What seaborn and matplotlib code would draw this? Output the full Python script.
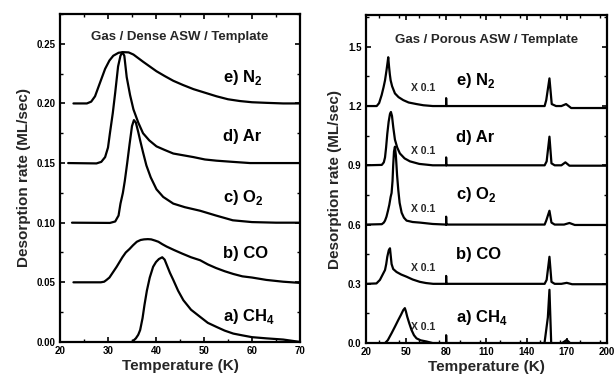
import matplotlib
matplotlib.use("Agg")
import matplotlib.pyplot as plt
from matplotlib.ticker import MultipleLocator, FormatStrFormatter
import seaborn as sns
import pandas as pd

sns.set_theme(style="ticks")
plt.rcParams["font.family"] = ["Liberation Sans", "DejaVu Sans"]
plt.rcParams["font.weight"] = "bold"
plt.rcParams["mathtext.fontset"] = "custom"
plt.rcParams["mathtext.rm"] = "Liberation Sans:bold"
plt.rcParams["mathtext.bf"] = "Liberation Sans:bold"

# ---- Dense ASW: desorption traces (temperature K, rate ML/sec, offset baselines) ----
dense_ch4_t = [35.0, 35.8, 36.3, 36.7, 37.2, 37.6, 38.1, 38.7, 39.4, 40.0, 40.6, 41.3, 41.8, 42.3, 42.9,
               43.6, 44.6, 45.7, 47.3, 49.2, 50.8, 52.6, 54.3, 56.1, 58.0, 60.0, 63.0, 66.5, 70.0]
dense_ch4_v = [0.000, 0.003, 0.006, 0.010, 0.020, 0.031, 0.043, 0.054, 0.063, 0.067, 0.0695, 0.071, 0.069, 0.064, 0.058,
               0.052, 0.043, 0.035, 0.027, 0.021, 0.016, 0.0126, 0.0095, 0.007, 0.0055, 0.004, 0.003, 0.002, 0.000]

dense_co_t = [22.8, 28.5, 29.2, 29.7, 30.3, 30.8, 31.3, 31.8, 32.4, 33.0, 33.7, 34.5, 35.2, 36.0, 36.8, 37.5,
              38.3, 39.0, 39.8, 40.5, 41.3, 42.2, 43.8, 45.5, 47.3, 49.2, 50.8, 52.5, 54.3, 56.1, 58.0, 60.0,
              63.0, 66.5, 70.0]
dense_co_v = [0.050, 0.050, 0.0505, 0.052, 0.054, 0.057, 0.060, 0.063, 0.067, 0.071, 0.075, 0.078, 0.081, 0.084, 0.0855, 0.086,
              0.0862, 0.086, 0.085, 0.084, 0.082, 0.080, 0.077, 0.074, 0.071, 0.0685, 0.065, 0.062, 0.0593, 0.057, 0.055, 0.054,
              0.052, 0.0505, 0.0495]

dense_o2_t = [22.5, 30.4, 31.5, 32.2, 32.6, 33.1, 33.5, 34.0, 34.5, 35.0, 35.4, 35.8, 36.3, 36.7, 37.3, 38.0,
              38.9, 40.1, 41.5, 43.6, 46.0, 49.2, 52.5, 56.0, 60.0, 65.0, 70.0]
dense_o2_v = [0.100, 0.0998, 0.101, 0.106, 0.116, 0.125, 0.135, 0.150, 0.166, 0.181, 0.186, 0.184, 0.176, 0.169, 0.159, 0.148,
              0.138, 0.128, 0.1216, 0.116, 0.113, 0.110, 0.106, 0.102, 0.1005, 0.100, 0.100]

dense_ar_t = [21.7, 27.6, 28.6, 29.4, 30.0, 30.4, 31.0, 31.5, 32.1, 32.6, 33.0, 33.4, 33.9, 34.6, 35.3, 36.3,
              37.3, 38.6, 40.1, 41.8, 43.6, 45.7, 47.8, 50.2, 52.6, 56.0, 59.6, 65.0, 70.0]
dense_ar_v = [0.150, 0.1497, 0.151, 0.155, 0.163, 0.175, 0.192, 0.209, 0.231, 0.240, 0.243, 0.240, 0.222, 0.207, 0.195, 0.184,
              0.175, 0.169, 0.164, 0.161, 0.158, 0.1565, 0.155, 0.153, 0.152, 0.151, 0.150, 0.150, 0.150]

dense_n2_t = [22.8, 25.6, 26.5, 27.3, 28.3, 29.4, 30.3, 31.1, 32.2, 33.2, 34.3, 35.3, 36.3, 37.3, 38.7, 40.1,
              41.8, 43.6, 45.6, 47.8, 50.2, 52.6, 55.0, 57.5, 60.0, 63.0, 66.5, 70.0]
dense_n2_v = [0.200, 0.200, 0.2015, 0.206, 0.217, 0.229, 0.236, 0.240, 0.2425, 0.243, 0.2428, 0.241, 0.238, 0.235, 0.231, 0.227,
              0.223, 0.219, 0.2155, 0.212, 0.209, 0.206, 0.2035, 0.202, 0.201, 0.2005, 0.200, 0.200]

dense_labels = ["a) CH$_4$", "b) CO", "c) O$_2$", "d) Ar", "e) N$_2$"]
dense_label_y = [0.021, 0.074, 0.121, 0.172, 0.222]

# ---- Porous ASW: desorption traces (x 0.1 below 80 K) ----
porous_ch4_t = [34.4, 36.5, 39.3, 41.8, 44.3, 46.3, 48.0, 49.2, 50.0, 51.0, 52.5, 54.2, 56.0, 57.9, 61.0, 65.4, 70.0,
                79.9, 80.0, 80.0, 80.1, 153.4, 155.9, 157.1, 158.4, 166.5, 170.0, 172.5, 200.0]
porous_ch4_v = [0.000, 0.015, 0.050, 0.083, 0.117, 0.143, 0.167, 0.177, 0.160, 0.133, 0.100, 0.066, 0.040, 0.024, 0.014, 0.008, 0.000,
                0.000, 0.000, 0.040, 0.000, 0.000, 0.130, 0.270, 0.000, 0.000, 0.016, 0.000, 0.000]

porous_co_t = [20.0, 28.0, 30.6, 32.5, 34.4, 35.3, 36.1, 37.2, 38.1, 38.7, 39.3, 40.5, 43.0, 46.5, 50.5, 55.0, 60.4, 65.0,
               70.3, 79.9, 80.0, 80.0, 80.1, 153.5, 155.0, 157.1, 158.6, 161.0, 166.0, 170.0, 174.0, 200.0]
porous_co_v = [0.300, 0.302, 0.320, 0.345, 0.370, 0.400, 0.437, 0.470, 0.480, 0.440, 0.400, 0.375, 0.360, 0.347, 0.336, 0.322, 0.310, 0.304,
               0.300, 0.300, 0.300, 0.340, 0.300, 0.300, 0.320, 0.437, 0.310, 0.300, 0.300, 0.305, 0.298, 0.298]

porous_o2_t = [20.0, 32.0, 33.5, 34.4, 35.5, 36.6, 37.6, 38.6, 39.3, 40.0, 40.5, 41.1, 41.8, 42.5, 43.4, 44.3, 45.3, 46.8,
               48.5, 50.5, 55.0, 60.4, 70.0, 79.9, 80.0, 80.0, 80.1, 153.5, 154.7, 157.1, 158.6, 161.0, 168.0, 172.0, 176.0, 200.0]
porous_o2_v = [0.600, 0.602, 0.610, 0.620, 0.640, 0.670, 0.700, 0.740, 0.760, 0.820, 0.900, 0.970, 0.994, 0.950, 0.850, 0.775, 0.710, 0.660,
               0.635, 0.620, 0.613, 0.610, 0.603, 0.600, 0.600, 0.640, 0.600, 0.600, 0.620, 0.670, 0.610, 0.600, 0.600, 0.608, 0.598, 0.598]

porous_ar_t = [20.0, 32.0, 33.5, 34.4, 35.2, 36.1, 37.1, 38.1, 38.8, 39.6, 40.6, 41.8, 43.5, 45.5, 49.0, 53.0, 60.0, 70.0,
               79.9, 80.0, 80.0, 80.1, 153.5, 155.0, 157.1, 158.6, 161.0, 166.0, 169.0, 172.0, 200.0]
porous_ar_v = [0.900, 0.902, 0.915, 0.940, 0.990, 1.060, 1.120, 1.160, 1.170, 1.150, 1.090, 1.030, 0.990, 0.960, 0.935, 0.920, 0.907, 0.900,
               0.900, 0.900, 0.940, 0.900, 0.900, 0.920, 1.045, 0.910, 0.900, 0.900, 0.915, 0.898, 0.898]

porous_n2_t = [20.7, 28.2, 30.0, 31.9, 33.3, 34.4, 35.5, 36.3, 36.8, 37.4, 38.0, 38.6, 39.7, 41.8, 44.5, 48.0, 52.0, 57.9,
               63.0, 70.0, 79.9, 80.0, 80.0, 80.1, 153.5, 154.7, 157.1, 158.8, 162.0, 166.0, 169.5, 173.3, 200.0]
porous_n2_v = [1.200, 1.200, 1.215, 1.256, 1.295, 1.330, 1.380, 1.420, 1.447, 1.400, 1.360, 1.330, 1.300, 1.264, 1.245, 1.230, 1.218, 1.210,
               1.204, 1.200, 1.200, 1.200, 1.240, 1.200, 1.200, 1.230, 1.340, 1.210, 1.200, 1.200, 1.210, 1.190, 1.190]

porous_labels = ["a) CH$_4$", "b) CO", "c) O$_2$", "d) Ar", "e) N$_2$"]
porous_label_y = [0.13, 0.45, 0.75, 1.04, 1.33]
porous_scale_text = "X 0.1"
porous_scale_y = [0.08, 0.38, 0.68, 0.97, 1.29]

dense_traces = [(dense_ch4_t, dense_ch4_v), (dense_co_t, dense_co_v), (dense_o2_t, dense_o2_v),
                (dense_ar_t, dense_ar_v), (dense_n2_t, dense_n2_v)]
porous_traces = [(porous_ch4_t, porous_ch4_v), (porous_co_t, porous_co_v), (porous_o2_t, porous_o2_v),
                 (porous_ar_t, porous_ar_v), (porous_n2_t, porous_n2_v)]

fig = plt.figure(figsize=(6.16, 3.89), dpi=100)
ax1 = fig.add_axes([0.0974, 0.121, 0.3896, 0.843])
ax2 = fig.add_axes([0.5937, 0.118, 0.3916, 0.843])

line_kw = dict(color="black", linewidth=1.6, sort=False, estimator=None, legend=False)

for t, v in dense_traces:
    sns.lineplot(data=pd.DataFrame({"T": t, "rate": v}), x="T", y="rate", ax=ax1, **line_kw)
for t, v in porous_traces:
    sns.lineplot(data=pd.DataFrame({"T": t, "rate": v}), x="T", y="rate", ax=ax2, **line_kw)

label_font = dict(fontsize=12, fontweight="bold", color="black")
for txt, y in zip(dense_labels, dense_label_y):
    ax1.text(54.0, y, txt, ha="left", va="center", **label_font)
for txt, y in zip(porous_labels, porous_label_y):
    ax2.text(87, y, txt, ha="left", va="center", **label_font)
for y in porous_scale_y:
    ax2.text(54, y, porous_scale_text, ha="left", va="center", fontsize=7.5, fontweight="bold")

ax1.text(0.5, 0.93, "Gas / Dense ASW / Template", transform=ax1.transAxes,
         ha="center", va="center", fontsize=9.5, fontweight="bold")
ax2.text(0.5, 0.925, "Gas / Porous ASW / Template", transform=ax2.transAxes,
         ha="center", va="center", fontsize=9.5, fontweight="bold")

ax1.set_xlim(20, 70)
ax1.set_ylim(0, 0.275)
ax1.xaxis.set_major_locator(MultipleLocator(10))
ax1.xaxis.set_minor_locator(MultipleLocator(5))
ax1.yaxis.set_major_locator(MultipleLocator(0.05))
ax1.yaxis.set_minor_locator(MultipleLocator(0.025))
ax1.yaxis.set_major_formatter(FormatStrFormatter("%.2f"))

ax2.set_xlim(20, 200)
ax2.set_ylim(0, 1.66)
ax2.xaxis.set_minor_locator(MultipleLocator(15))
ax2.set_xticks([20, 50, 80, 110, 140, 170, 200])
ax2.yaxis.set_major_locator(MultipleLocator(0.3))
ax2.yaxis.set_minor_locator(MultipleLocator(0.15))
ax2.yaxis.set_major_formatter(FormatStrFormatter("%.1f"))

for ax in (ax1, ax2):
    ax.set_xlabel("Temperature (K)", fontsize=11, fontweight="bold", labelpad=2)
    ax.set_ylabel("Desorption rate (ML/sec)", fontsize=11, fontweight="bold", labelpad=4)
    ax.tick_params(which="both", direction="in", top=True, right=True, colors="black")
    ax.tick_params(which="major", length=3.5, width=1.2, labelsize=7, pad=3)
    ax.tick_params(which="minor", length=2, width=1.0)
    for lab in ax.get_xticklabels() + ax.get_yticklabels():
        lab.set_fontweight("bold")
    for sp in ax.spines.values():
        sp.set_linewidth(1.6)
        sp.set_color("black")
    ax.set_facecolor("white")

fig.savefig("out.png", dpi=100, facecolor="white")
